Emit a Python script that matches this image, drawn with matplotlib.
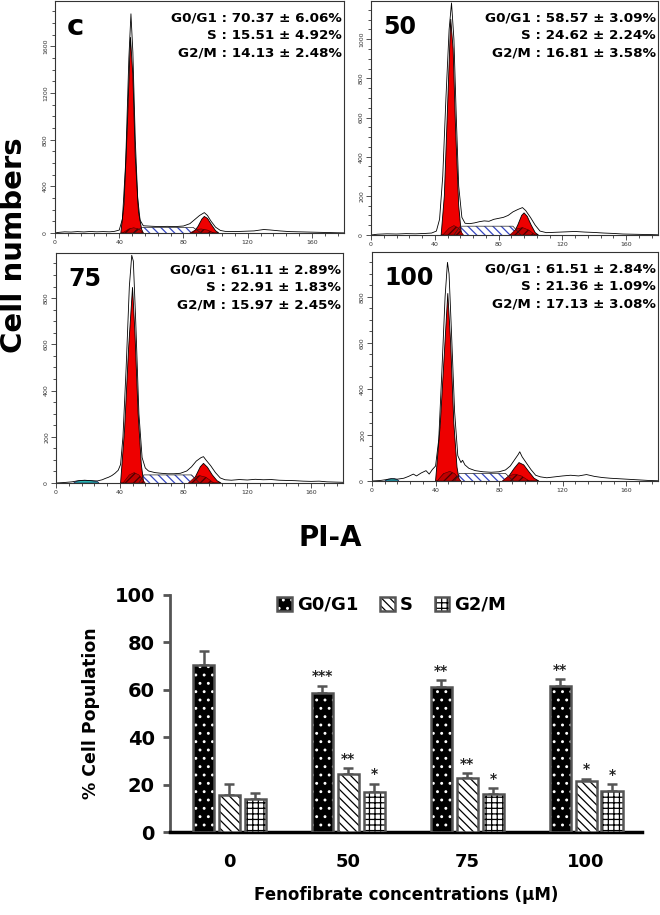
import numpy as np
import matplotlib
matplotlib.use("Agg")
import matplotlib.pyplot as plt
from matplotlib.ticker import MultipleLocator

# ---- flow cytometry histograms: (channel, count) vertices ----
C_RAW = [(0, 0), (2, 5), (6, 10), (10, 8), (14, 12), (18, 9), (22, 13), (26, 10), (30, 12), (34, 10),
         (37, 14), (40, 25), (42, 120), (44, 600), (46, 1500), (47.3, 1880), (48.5, 1550), (50, 800),
         (51.5, 300), (53, 110), (55, 62), (60, 58), (65, 55), (70, 57), (75, 55), (80, 60), (84, 80),
         (87, 115), (90, 150), (93, 175), (95, 150), (97, 105), (100, 50), (103, 22), (106, 14),
         (112, 12), (118, 15), (124, 18), (130, 30), (134, 26), (140, 18), (146, 12), (152, 10),
         (158, 8), (164, 6), (170, 4), (176, 2), (180, 1)]
C_G1 = [(41, 0), (43, 250), (45, 900), (47, 1680), (48.5, 1350), (50, 650), (52, 180), (54, 30), (55, 0)]
C_G2 = [(86, 0), (89, 55), (91.5, 120), (93, 142), (95, 125), (97.5, 70), (100, 20), (102, 0)]
C_S = [(49, 0), (54, 48), (86, 48), (91, 0)]
C_H1 = [(42, 0), (46, 35), (49, 45), (52, 35), (55, 0)]
C_H2 = [(84, 0), (88, 30), (91, 35), (95, 25), (99, 0)]

P50_RAW = [(0, 0), (4, 4), (10, 6), (16, 5), (22, 7), (28, 6), (34, 8), (38, 10), (41, 20), (43, 80),
           (45, 300), (47, 700), (49, 1050), (50.5, 1185), (52, 1000), (53.5, 600), (55, 250), (57, 90),
           (59, 60), (62, 58), (65, 62), (68, 68), (71, 72), (74, 70), (77, 80), (80, 85), (83, 90),
           (86, 100), (89, 118), (92, 130), (95, 140), (97, 125), (100, 90), (103, 50), (106, 20),
           (110, 12), (116, 14), (122, 16), (128, 18), (134, 15), (140, 13), (146, 10), (152, 8),
           (158, 5), (164, 4), (170, 3), (176, 2), (180, 1)]
P50_G1 = [(44, 0), (46, 200), (48, 650), (50, 1103), (51.5, 950), (53, 550), (55, 150), (56.5, 20), (57, 0)]
P50_G2 = [(89, 0), (92, 50), (94.5, 100), (96, 113), (98, 95), (100.5, 50), (103, 12), (105, 0)]
P50_S = [(52, 0), (56, 45), (89, 45), (94, 0)]
P50_H1 = [(45, 0), (49, 35), (52, 48), (55, 35), (58, 0)]
P50_H2 = [(87, 0), (91, 30), (95, 38), (99, 25), (103, 0)]

P75_RAW = [(0, 0), (5, 2), (10, 5), (14, 10), (18, 12), (22, 10), (26, 9), (29, 14), (31, 20), (33, 25),
           (35, 32), (37, 42), (39, 55), (40.5, 80), (42, 200), (44, 500), (46, 850), (47.5, 985),
           (48.5, 960), (50, 700), (52, 300), (54, 110), (56, 65), (58, 52), (62, 45), (66, 42),
           (70, 40), (74, 40), (78, 42), (82, 52), (85, 70), (88, 95), (91, 110), (92.5, 114),
           (94, 100), (97, 75), (100, 45), (103, 22), (106, 14), (110, 12), (115, 15), (120, 13),
           (125, 16), (130, 14), (135, 15), (140, 12), (145, 11), (150, 10), (155, 8), (160, 7),
           (165, 8), (170, 5), (175, 4), (180, 3)]
P75_G1 = [(40.5, 0), (43, 230), (45.5, 580), (48, 847), (49.5, 650), (51.5, 300), (53.5, 80), (55, 0)]
P75_G2 = [(85.5, 0), (88, 35), (90.5, 70), (92.5, 85), (95, 68), (98, 35), (101, 10), (103.5, 0)]
P75_S = [(52, 0), (55, 35), (85, 35), (90, 0)]
P75_H1 = [(42, 0), (46, 35), (49, 45), (52, 35), (56, 0)]
P75_H2 = [(83, 0), (87, 25), (90, 32), (94, 25), (99, 0)]
P75_DEB = [(11, 0), (13, 8), (18, 12), (22, 10), (26, 6), (27, 0)]

P100_RAW = [(0, 0), (5, 2), (9, 6), (12, 10), (16, 8), (20, 12), (23, 20), (26, 30), (28, 22), (31, 35),
            (34, 45), (36, 30), (38, 50), (40, 65), (42, 180), (44, 480), (46, 800), (47.5, 950),
            (48.5, 900), (50, 650), (52, 300), (54, 110), (56, 80), (57, 90), (58.5, 70), (61, 55),
            (65, 45), (70, 40), (75, 38), (80, 40), (84, 48), (87, 65), (90, 95), (92, 115), (93, 127),
            (94.5, 105), (97, 80), (100, 50), (103, 25), (106, 18), (110, 14), (115, 18), (120, 22),
            (125, 25), (130, 22), (135, 28), (140, 20), (145, 15), (150, 12), (155, 10), (160, 8),
            (165, 6), (170, 4), (175, 2), (180, 1)]
P100_G1 = [(40, 0), (43, 250), (45.5, 550), (47.7, 816), (49.5, 600), (51.5, 250), (53.5, 60), (55, 0)]
P100_G2 = [(83, 0), (86, 20), (89.5, 55), (92.5, 80), (95.5, 70), (99, 38), (102, 12), (105, 0)]
P100_S = [(52, 0), (55, 33), (84, 33), (89, 0)]
P100_H1 = [(41, 0), (45, 32), (49, 42), (52, 32), (56, 0)]
P100_H2 = [(82, 0), (86, 22), (90, 30), (94, 22), (99, 0)]
P100_DEB = [(8, 0), (10, 8), (14, 10), (16, 6), (17, 0)]

PANEL_NAMES = ["c", "50", "75", "100"]
PANEL_YMAX = [1990, 1195, 995, 995]
PANEL_YMAJOR = [400, 200, 200, 200]
PANEL_YMINOR = [100, 50, 50, 50]
STAT_LABELS = ["G0/G1", "S", "G2/M"]

# ---- bar chart ----
CONC = ["0", "50", "75", "100"]
G0G1_MEAN = [70.37, 58.57, 61.11, 61.51]
G0G1_SD = [6.06, 3.09, 2.89, 2.84]
S_MEAN = [15.51, 24.62, 22.91, 21.36]
S_SD = [4.92, 2.24, 1.83, 1.09]
G2M_MEAN = [14.13, 16.81, 15.97, 17.13]
G2M_SD = [2.48, 3.58, 2.45, 3.08]
G0G1_SIG = ["", "***", "**", "**"]
S_SIG = ["", "**", "**", "*"]
G2M_SIG = ["", "*", "*", "*"]

plt.rcParams["font.family"] = ["DejaVu Sans"]
plt.rcParams["font.weight"] = "bold"
plt.rcParams["hatch.linewidth"] = 0.9

W, H = 660, 915
fig = plt.figure(figsize=(W / 100, H / 100), dpi=100)


def rect(l, t, r, b):
    return [l / W, 1 - b / H, (r - l) / W, (b - t) / H]


hist_rects = [rect(55, 1, 344, 233), rect(371, 1, 658, 235),
              rect(56, 253, 343, 483), rect(372, 252, 658, 481)]
hist_data = [
    (C_RAW, C_G1, C_G2, C_S, C_H1, C_H2, None),
    (P50_RAW, P50_G1, P50_G2, P50_S, P50_H1, P50_H2, None),
    (P75_RAW, P75_G1, P75_G2, P75_S, P75_H1, P75_H2, P75_DEB),
    (P100_RAW, P100_G1, P100_G2, P100_S, P100_H1, P100_H2, P100_DEB),
]
stats = [
    (G0G1_MEAN, G0G1_SD), (S_MEAN, S_SD), (G2M_MEAN, G2M_SD)
]

for i, (r, data) in enumerate(zip(hist_rects, hist_data)):
    ax = fig.add_axes(r)
    raw, g1, g2, s, h1, h2, deb = [None if d is None else np.array(d) for d in data]
    ax.fill(s[:, 0], s[:, 1], facecolor="white", edgecolor="#3546c0", hatch="\\\\\\\\", lw=0)
    ax.plot(s[:, 0], s[:, 1], color="#222", lw=0.5)
    for pk in (g1, g2):
        ax.fill(pk[:, 0], pk[:, 1], facecolor="#ee0000", edgecolor="black", lw=0.6)
    for hp in (h1, h2):
        ax.fill(hp[:, 0], hp[:, 1], facecolor="#c00000", edgecolor="#4a0000", hatch="////", lw=0.4)
    if deb is not None:
        ax.fill(deb[:, 0], deb[:, 1], facecolor="#2bb5b0", edgecolor="#115", lw=0.4)
    ax.plot(raw[:, 0], raw[:, 1], color="black", lw=0.6)

    ax.set_xlim(0, 180)
    ax.set_ylim(0, PANEL_YMAX[i])
    ax.xaxis.set_major_locator(MultipleLocator(40))
    ax.xaxis.set_minor_locator(MultipleLocator(8))
    ax.yaxis.set_major_locator(MultipleLocator(PANEL_YMAJOR[i]))
    ax.yaxis.set_minor_locator(MultipleLocator(PANEL_YMINOR[i]))
    ax.tick_params(which="both", direction="out", width=0.6, color="#333",
                   labelsize=4.5, labelcolor="#333", pad=1.5)
    ax.tick_params(which="major", length=3.5)
    ax.tick_params(which="minor", length=2)
    for lab in ax.get_yticklabels():
        lab.set_rotation(90)
        lab.set_va("center")
        lab.set_fontweight("normal")
    for lab in ax.get_xticklabels():
        lab.set_fontweight("normal")
    for sp in ax.spines.values():
        sp.set_linewidth(0.8)
        sp.set_color("#333")

    ax.text(0.042, 0.888, PANEL_NAMES[i], transform=ax.transAxes, ha="left", va="center",
            fontsize=21 if i == 0 else 17, fontweight="bold")
    ax_h = r[3] * H
    for k, (lab, (mean, sd)) in enumerate(zip(STAT_LABELS, stats)):
        y = 1 - (17 + 17.5 * k) / ax_h
        ax.text(0.992, y, f"{lab} : {mean[i]:.2f} ± {sd[i]:.2f}%", transform=ax.transAxes,
                ha="right", va="center", fontsize=9.7, fontweight="bold")

fig.text(14 / W, 1 - 245 / H, "Cell numbers", rotation=90, ha="center", va="center",
         fontsize=21, fontweight="bold")
fig.text(330 / W, 1 - 538 / H, "PI-A", ha="center", va="center", fontsize=20, fontweight="bold")

# ---- bar chart ----
bx = fig.add_axes(rect(170, 595, 642, 832))
x = np.arange(len(CONC))
bw = 0.178
step = 0.218
series = [
    (G0G1_MEAN, G0G1_SD, G0G1_SIG, dict(facecolor="black", edgecolor="white", hatch="..")),
    (S_MEAN, S_SD, S_SIG, dict(facecolor="white", edgecolor="black", hatch="\\\\\\\\")),
    (G2M_MEAN, G2M_SD, G2M_SIG, dict(facecolor="white", edgecolor="black", hatch="+++")),
]
handles = []
for j, (mean, sd, sig, style) in enumerate(series):
    xs = x + (j - 1) * step
    bx.errorbar(xs, mean, yerr=[np.zeros(len(sd)), sd], fmt="none", ecolor="#555",
                elinewidth=1.8, capsize=3.5, capthick=1.8, zorder=2)
    fill = bx.bar(xs, mean, bw, lw=0, zorder=3, **style)
    edge = bx.bar(xs, mean, bw, fill=False, edgecolor="#555", lw=1.8, zorder=4)
    handles.append((fill[0], edge[0]))
    for xi, m, s, t in zip(xs, mean, sd, sig):
        if t:
            bx.text(xi, m + s + 1.0, t, ha="center", va="bottom", fontsize=10,
                    fontweight="bold", color="#222")

bx.set_xlim(-0.5, 3.47)
bx.set_ylim(0, 100)
bx.set_yticks([0, 20, 40, 60, 80, 100])
bx.set_xticks(x)
bx.set_xticklabels(CONC)
bx.tick_params(axis="y", direction="out", length=5, width=2, color="#555", labelsize=14, pad=6)
bx.tick_params(axis="x", length=0, labelsize=13, pad=15)
for lab in bx.get_xticklabels() + bx.get_yticklabels():
    lab.set_fontweight("bold")
bx.spines["top"].set_visible(False)
bx.spines["right"].set_visible(False)
bx.spines["left"].set_color("#555")
bx.spines["left"].set_linewidth(2)
bx.spines["bottom"].set_color("black")
bx.spines["bottom"].set_linewidth(2.5)
bx.set_ylabel("% Cell Population", fontsize=12.5, fontweight="bold", labelpad=10)
bx.set_xlabel("Fenofibrate concentrations (µM)", fontsize=12, fontweight="bold", labelpad=11)
bx.legend(handles, ["G0/G1", "S", "G2/M"], loc="center", bbox_to_anchor=(0.47, 0.958),
          ncol=3, frameon=False, handlelength=0.8, handleheight=0.8,
          handletextpad=0.3, columnspacing=1.2, prop=dict(weight="bold", size=13))

fig.savefig("out.png", dpi=100)
